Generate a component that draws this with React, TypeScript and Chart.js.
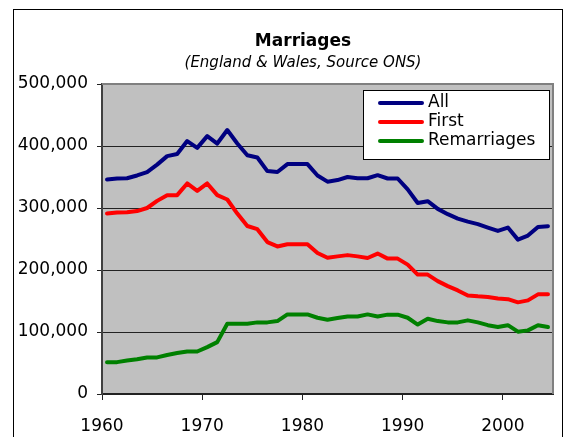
import React, { useEffect, useRef } from "react";
import { Chart, registerables } from "chart.js";

Chart.register(...registerables);

const years: number[] = [
  1960, 1961, 1962, 1963, 1964, 1965, 1966, 1967, 1968, 1969,
  1970, 1971, 1972, 1973, 1974, 1975, 1976, 1977, 1978, 1979,
  1980, 1981, 1982, 1983, 1984, 1985, 1986, 1987, 1988, 1989,
  1990, 1991, 1992, 1993, 1994, 1995, 1996, 1997, 1998, 1999,
  2000, 2001, 2002, 2003, 2004,
];

const allMarriages: number[] = [
  346000, 347600, 348000, 352500, 358000, 370000, 383700, 387000, 408000, 397000,
  416000, 404000, 425700, 404000, 385000, 381500, 359500, 358000, 370800, 370800,
  370800, 352500, 342500, 345000, 350000, 348000, 348000, 353000, 347600, 347600,
  330000, 308000, 311000, 298600, 290000, 283000, 278000, 274000, 268500, 263000,
  268500, 249000, 255600, 269500, 270600,
];

const firstMarriages: number[] = [
  291000, 292700, 293000, 295000, 300000, 311500, 320700, 320700, 339600, 327600,
  339600, 320700, 313700, 291000, 271000, 265800, 245000, 238000, 241500, 241500,
  241500, 227500, 219700, 222000, 224000, 222000, 219400, 226500, 218400, 218400,
  208700, 192600, 192600, 182000, 174000, 167000, 159000, 157500, 156400, 154000,
  153000, 147800, 151000, 160700, 160700,
];

const remarriages: number[] = [
  51400, 51400, 54000, 56000, 59000, 59000, 63000, 66000, 68700, 68500,
  75600, 83700, 113400, 113400, 113400, 115500, 115500, 117600, 128400, 128400,
  128400, 123000, 119800, 122500, 125000, 125000, 128400, 125000, 128000, 128000,
  123000, 112000, 121400, 117600, 115500, 115500, 118800, 115500, 111000, 108000,
  111000, 100500, 102600, 111000, 108000,
];

const xTickYears: number[] = [1960, 1970, 1980, 1990, 2000];
const yTickValues: number[] = [0, 100000, 200000, 300000, 400000, 500000];

const seriesLabels: string[] = ["All", "First", "Remarriages"];
const seriesColors: string[] = ["#000080", "#FF0000", "#008000"];

const FONT = "'DejaVu Sans', 'Liberation Sans', Arial, sans-serif";

const frameAndBgPlugin = {
  id: "frameAndBg",
  afterLayout(chart: any) {
    // let the y tick labels extend into the left margin without being clipped
    const ys = chart.scales.y;
    if (ys) ys.left = 0;
  },
  beforeDraw(chart: any) {
    const { ctx, chartArea } = chart;
    ctx.save();
    ctx.fillStyle = "#ffffff";
    ctx.fillRect(0, 0, chart.width, chart.height);
    ctx.strokeStyle = "#000000";
    ctx.lineWidth = 1;
    ctx.strokeRect(13.5, 9.5, 549, 460);
    ctx.fillStyle = "#C0C0C0";
    ctx.fillRect(chartArea.left, chartArea.top, chartArea.right - chartArea.left, chartArea.bottom - chartArea.top);
    ctx.restore();
  },
  beforeDatasetsDraw(chart: any) {
    const { ctx, chartArea } = chart;
    ctx.save();
    ctx.strokeStyle = "#808080";
    ctx.lineWidth = 2;
    ctx.beginPath();
    ctx.moveTo(chartArea.left, chartArea.top);
    ctx.lineTo(chartArea.right, chartArea.top);
    ctx.lineTo(chartArea.right, chartArea.bottom);
    ctx.stroke();
    ctx.restore();
  },
};

const boxedLegendPlugin = {
  id: "boxedLegend",
  afterDraw(chart: any) {
    const { ctx, chartArea } = chart;
    const boxW = 186;
    const boxH = 69;
    const left = chartArea.right - boxW - 4;
    const top = chartArea.top + 6;
    ctx.save();
    ctx.fillStyle = "#ffffff";
    ctx.fillRect(left, top, boxW, boxH);
    ctx.strokeStyle = "#000000";
    ctx.lineWidth = 1;
    ctx.strokeRect(Math.round(left) + 0.5, Math.round(top) + 0.5, boxW, boxH);
    ctx.font = `17px ${FONT}`;
    ctx.textBaseline = "middle";
    ctx.textAlign = "left";
    chart.data.datasets.forEach((ds: any, i: number) => {
      const y = top + 13 + i * 19;
      ctx.strokeStyle = ds.borderColor;
      ctx.lineWidth = 4;
      ctx.lineCap = "round";
      ctx.beginPath();
      ctx.moveTo(left + 17, y);
      ctx.lineTo(left + 59, y);
      ctx.stroke();
      ctx.fillStyle = "#000000";
      ctx.fillText(ds.label, left + 65, y);
    });
    ctx.restore();
  },
};

export default function App() {
  const canvasRef = useRef<HTMLCanvasElement | null>(null);

  useEffect(() => {
    const canvas = canvasRef.current;
    if (!canvas) return;
    const seriesData = [allMarriages, firstMarriages, remarriages];
    const chart = new Chart(canvas, {
      type: "line",
      data: {
        labels: years.map(String),
        datasets: seriesData.map((d, i) => ({
          label: seriesLabels[i],
          data: d,
          borderColor: seriesColors[i],
          backgroundColor: seriesColors[i],
          borderWidth: 4,
          pointRadius: 0,
          tension: 0,
          borderJoinStyle: "round" as const,
          borderCapStyle: "round" as const,
          xAxisID: "x",
          yAxisID: "y",
        })),
      },
      options: {
        responsive: false,
        animation: false,
        devicePixelRatio: 1,
        layout: { padding: { left: 53, right: 12, top: 0, bottom: 0 } },
        plugins: {
          legend: { display: false },
          tooltip: { enabled: false },
          title: {
            display: true,
            text: "Marriages",
            color: "#000000",
            font: { family: FONT, size: 17, weight: "bold", lineHeight: 1.2 },
            padding: { top: 31, bottom: 0 },
          },
          subtitle: {
            display: true,
            text: "(England & Wales, Source ONS)",
            color: "#000000",
            font: { family: FONT, size: 15, style: "italic", lineHeight: 1.2 },
            padding: { top: 3, bottom: 11.6 },
          },
        },
        scales: {
          x: {
            type: "category",
            display: false,
            offset: true,
            grid: { display: false },
          },
          xYear: {
            type: "linear",
            position: "bottom",
            min: 1960,
            max: 2005,
            afterFit(scale: any) {
              scale.height = 43;
            },
            afterBuildTicks(scale: any) {
              scale.ticks = xTickYears.map((v) => ({ value: v }));
            },
            ticks: {
              color: "#000000",
              font: { family: FONT, size: 17 },
              padding: 16,
              maxRotation: 0,
              autoSkip: false,
              callback: (v: any) => String(v),
            },
            grid: {
              drawOnChartArea: false,
              drawTicks: true,
              tickLength: 6,
              color: "#222222",
            },
            border: { display: true, color: "#222222", width: 2 },
          },
          y: {
            type: "linear",
            min: 0,
            max: 500000,
            afterFit(scale: any) {
              scale.width = 49;
            },
            afterBuildTicks(scale: any) {
              scale.ticks = yTickValues.map((v) => ({ value: v }));
            },
            ticks: {
              color: "#000000",
              font: { family: FONT, size: 17 },
              padding: 9,
              callback: (v: any) => Number(v).toLocaleString("en-US"),
            },
            grid: {
              drawTicks: true,
              tickLength: 5,
              color: (ctx: any) => (ctx.tick && ctx.tick.value === 500000 ? "#808080" : "#222222"),
              tickColor: "#222222",
              lineWidth: 1,
            },
            border: { display: true, color: "#404040", width: 2 },
          },
        },
      },
      plugins: [frameAndBgPlugin, boxedLegendPlugin],
    });
    return () => {
      chart.destroy();
    };
  }, []);

  return (
    <div style={{ position: "absolute", left: 0, top: 0, width: 565, height: 437 }}>
      <canvas ref={canvasRef} width={565} height={437} style={{ display: "block" }} />
    </div>
  );
}
